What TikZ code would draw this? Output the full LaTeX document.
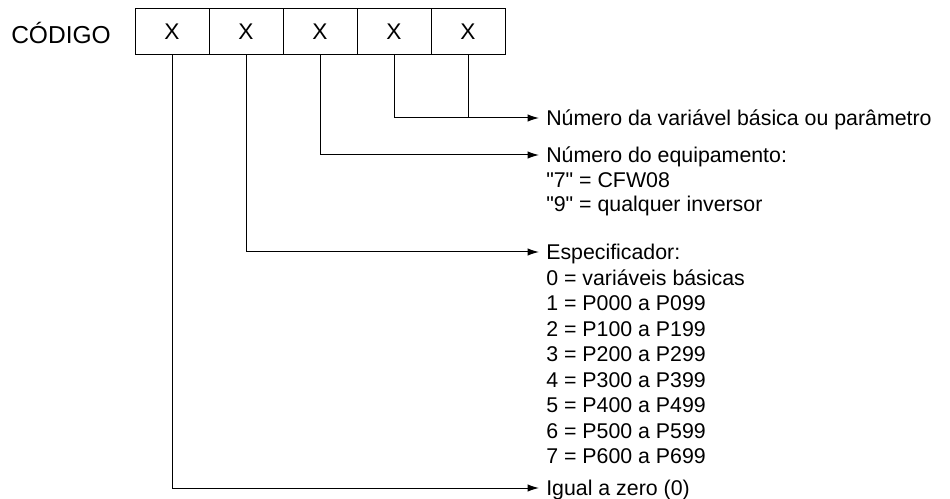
\documentclass[tikz,border=0pt]{standalone}
\usepackage{fontspec}
\setmainfont{Liberation Sans}
\newfontfamily\rawlib{Liberation Sans}
\usetikzlibrary{arrows.meta}
\begin{document}
\begin{tikzpicture}[x=0.75pt,y=-0.75pt,
  digit/.style={draw, line width=0.75pt, minimum width=55.5pt, minimum height=34.5pt, inner sep=0pt, font=\rawlib\fontsize{17pt}{20pt}\selectfont},
  lab/.style={anchor=base west, inner sep=0pt, font=\rawlib\fontsize{16pt}{19.1pt}\selectfont},
  conn/.style={line width=0.75pt, -{Latex[length=8.5pt, width=5.5pt]}},
  plain/.style={line width=0.75pt}]
\useasboundingbox (0,0) rectangle (950,499);
\node[inner sep=0pt, font=\rawlib\fontsize{18.4pt}{21pt}\selectfont] (cod) at (61,33) {CÓDIGO};
\node[digit] (b1) at (172,32) {X};
\node[digit] (b2) at (246,32) {X};
\node[digit] (b3) at (320,32) {X};
\node[digit] (b4) at (394,32) {X};
\node[digit] (b5) at (468,32) {X};
% arrow tips
\coordinate (e1) at (539,118);
\coordinate (e2) at (539,155);
\coordinate (e3) at (539,252);
\coordinate (e4) at (539,488);
% texts (baseline = line centre + 7.6px)
\node[lab] (t1) at (546,125.6) {Número da variável básica ou parâmetro};
\node[lab] (t2a) at (546,162.6) {Número do equipamento:};
\node[lab] (t2b) at (546,187.1) {"7" = CFW08};
\node[lab] (t2c) at (546,211.6) {"9" = qualquer inversor};
\node[lab] (t3a) at (546,259.6) {Especificador:};
\node[lab] (t3b) at (546,285.1) {0 = variáveis básicas};
\node[lab] (t3c) at (546,310.6) {1 = P000 a P099};
\node[lab] (t3d) at (546,336.1) {2 = P100 a P199};
\node[lab] (t3e) at (546,361.6) {3 = P200 a P299};
\node[lab] (t3f) at (546,387.1) {4 = P300 a P399};
\node[lab] (t3g) at (546,412.6) {5 = P400 a P499};
\node[lab] (t3h) at (546,438.1) {6 = P500 a P599};
\node[lab] (t3i) at (546,463.6) {7 = P600 a P699};
\node[lab] (t4) at (546,495.6) {Igual a zero (0)};
% connectors
\draw[conn] (b4.south) |- (e1);
\draw[plain] (b5.south) -- (b5.south |- e1);
\draw[conn] (b3.south) |- (e2);
\draw[conn] (b2.south) |- (e3);
\draw[conn] (b1.south) |- (e4);
\end{tikzpicture}
\end{document}
